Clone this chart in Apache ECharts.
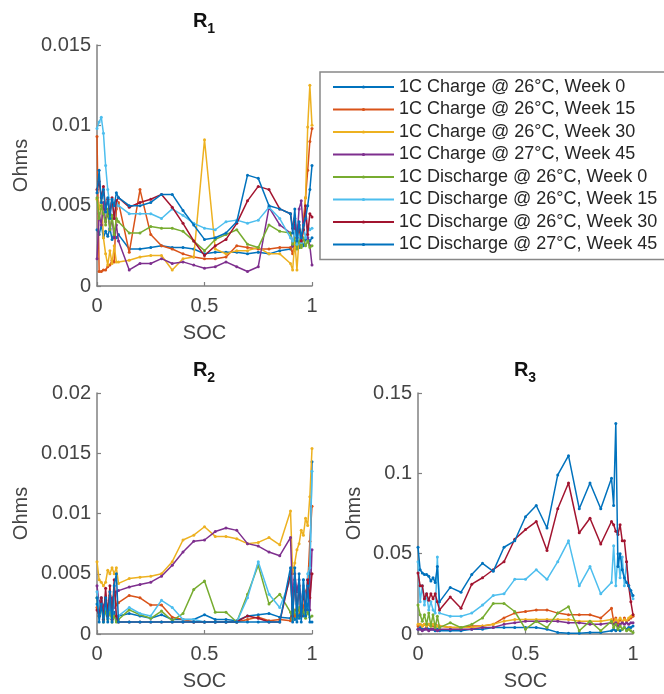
<!DOCTYPE html>
<html><head><meta charset="utf-8">
<script src="https://cdn.jsdelivr.net/npm/echarts@6/dist/echarts.min.js"></script>
<style>html,body{margin:0;padding:0;background:#fff}#c{width:664px;height:694px}</style>
</head><body><div id="c"></div>
<script>
// State of charge sample points (shared by all series)
const SOC = [0,0.01,0.02,0.03,0.04,0.05,0.06,0.07,0.08,0.09,0.1,
  0.15,0.2,0.25,0.3,0.35,0.4,0.45,0.5,0.55,0.6,0.65,0.7,0.75,0.8,0.85,
  0.9,0.91,0.92,0.93,0.94,0.95,0.96,0.97,0.98,0.99,1.0];

const SERIES_NAMES = [
  '1C Charge @ 26°C, Week 0','1C Charge @ 26°C, Week 15','1C Charge @ 26°C, Week 30','1C Charge @ 27°C, Week 45',
  '1C Discharge @ 26°C, Week 0','1C Discharge @ 26°C, Week 15','1C Discharge @ 26°C, Week 30','1C Discharge @ 27°C, Week 45'];
const COLORS = ['#0072BD','#D95319','#EDB120','#7E2F8E','#77AC30','#4DBEEE','#A2142F','#0072BD'];

const X_TICKS = [0, 0.5, 1];
const R1_TICKS = [0, 0.005, 0.01, 0.015];
const R2_TICKS = [0, 0.005, 0.01, 0.015, 0.02];
const R3_TICKS = [0, 0.05, 0.1, 0.15];

// ---------- R1 ----------
const R1_C26_W0 = [0.0035,0.0032,0.0038,0.0030,0.0034,0.0031,0.0036,0.0029,0.0033,0.0030,0.0032,
  0.0023,0.0023,0.0024,0.0025,0.0024,0.0024,0.0023,0.0020,0.0021,0.0021,0.0021,0.0020,0.0021,0.0020,0.0022,
  0.0023,0.0025,0.0022,0.0026,0.0024,0.0028,0.0025,0.0029,0.0030,0.0028,0.0030];
const R1_C26_W15 = [0.0093,0.0009,0.0009,0.0010,0.0010,0.0012,0.0013,0.0016,0.0015,0.0048,0.0052,
  0.0021,0.0060,0.0032,0.0025,0.0023,0.0020,0.0018,0.0017,0.0017,0.0018,0.0025,0.0024,0.0023,0.0023,0.0024,
  0.0024,0.0020,0.0030,0.0025,0.0035,0.0028,0.0040,0.0055,0.0072,0.0090,0.0098];
const R1_C26_W30 = [0.0054,0.0048,0.0056,0.0030,0.0020,0.0013,0.0022,0.0014,0.0025,0.0015,0.0015,
  0.0016,0.0018,0.0019,0.0019,0.0010,0.0017,0.0018,0.0091,0.0023,0.0020,0.0022,0.0022,0.0024,0.0020,0.0020,
  0.0014,0.0010,0.0028,0.0010,0.0030,0.0025,0.0035,0.0055,0.0099,0.0125,0.0100];
const R1_C27_W45 = [0.0017,0.0045,0.0038,0.0052,0.0040,0.0046,0.0035,0.0042,0.0030,0.0038,0.0028,
  0.0010,0.0014,0.0014,0.0017,0.0014,0.0015,0.0013,0.0011,0.0012,0.0015,0.0012,0.0009,0.0012,0.0049,0.0038,
  0.0033,0.0025,0.0038,0.0030,0.0048,0.0053,0.0035,0.0045,0.0030,0.0025,0.0013];
const R1_D26_W0 = [0.0055,0.0042,0.0050,0.0045,0.0038,0.0048,0.0035,0.0044,0.0032,0.0042,0.0040,
  0.0033,0.0033,0.0037,0.0036,0.0036,0.0034,0.0028,0.0022,0.0029,0.0032,0.0035,0.0026,0.0024,0.0038,0.0034,
  0.0033,0.0026,0.0030,0.0023,0.0029,0.0024,0.0030,0.0025,0.0028,0.0024,0.0025];
const R1_D26_W15 = [0.0098,0.0102,0.0105,0.0095,0.0075,0.0060,0.0050,0.0053,0.0042,0.0052,0.0050,
  0.0045,0.0045,0.0045,0.0042,0.0048,0.0044,0.0039,0.0036,0.0035,0.0040,0.0041,0.0039,0.0041,0.0049,0.0042,
  0.0030,0.0028,0.0034,0.0026,0.0032,0.0027,0.0036,0.0030,0.0038,0.0035,0.0036];
const R1_D26_W30 = [0.0060,0.0065,0.0055,0.0062,0.0048,0.0054,0.0045,0.0055,0.0042,0.0053,0.0055,
  0.0049,0.0052,0.0054,0.0057,0.0049,0.0039,0.0028,0.0019,0.0025,0.0029,0.0039,0.0053,0.0062,0.0060,0.0048,
  0.0045,0.0036,0.0042,0.0030,0.0038,0.0028,0.0035,0.0050,0.0032,0.0045,0.0043];
const R1_D27_W45 = [0.0058,0.0072,0.0052,0.0060,0.0046,0.0055,0.0042,0.0054,0.0050,0.0058,0.0055,
  0.0050,0.0050,0.0052,0.0057,0.0057,0.0047,0.0038,0.0029,0.0030,0.0033,0.0040,0.0069,0.0067,0.0050,0.0048,
  0.0045,0.0033,0.0048,0.0028,0.0040,0.0030,0.0038,0.0042,0.0050,0.0060,0.0075];

// ---------- R2 ----------
const R2_C26_W0 = [0.0025,0.0015,0.0028,0.0012,0.0020,0.0013,0.0022,0.0012,0.0018,0.0011,0.0015,
  0.0017,0.0015,0.0013,0.0016,0.0012,0.0012,0.0012,0.0016,0.0012,0.0012,0.0011,0.0015,0.0016,0.0017,0.0014,
  0.0013,0.0025,0.0012,0.0020,0.0013,0.0026,0.0015,0.0030,0.0020,0.0050,0.0143];
const R2_C26_W15 = [0.0022,0.0015,0.0026,0.0018,0.0030,0.0020,0.0032,0.0022,0.0035,0.0024,0.0026,
  0.0032,0.0030,0.0024,0.0024,0.0014,0.0012,0.0010,0.0010,0.0010,0.0010,0.0010,0.0012,0.0014,0.0011,0.0012,
  0.0011,0.0020,0.0015,0.0025,0.0018,0.0030,0.0020,0.0035,0.0040,0.0077,0.0106];
const R2_C26_W30 = [0.0060,0.0045,0.0043,0.0040,0.0043,0.0053,0.0050,0.0055,0.0050,0.0055,0.0042,
  0.0046,0.0047,0.0048,0.0050,0.0060,0.0078,0.0082,0.0089,0.0081,0.0081,0.0079,0.0075,0.0076,0.0080,0.0074,
  0.0102,0.0050,0.0059,0.0070,0.0075,0.0086,0.0082,0.0096,0.0090,0.0114,0.0154];
const R2_C27_W45 = [0.0040,0.0025,0.0030,0.0022,0.0028,0.0020,0.0025,0.0030,0.0022,0.0035,0.0036,
  0.0039,0.0041,0.0043,0.0048,0.0057,0.0068,0.0077,0.0078,0.0085,0.0088,0.0086,0.0075,0.0073,0.0068,0.0065,
  0.0080,0.0030,0.0050,0.0035,0.0045,0.0025,0.0040,0.0030,0.0045,0.0020,0.0070];
const R2_D26_W0 = [0.0030,0.0015,0.0025,0.0010,0.0020,0.0012,0.0018,0.0010,0.0015,0.0010,0.0012,
  0.0020,0.0016,0.0013,0.0019,0.0011,0.0017,0.0037,0.0044,0.0018,0.0018,0.0010,0.0033,0.0057,0.0025,0.0033,
  0.0018,0.0012,0.0020,0.0014,0.0022,0.0015,0.0020,0.0013,0.0018,0.0014,0.0015];
const R2_D26_W15 = [0.0035,0.0020,0.0030,0.0015,0.0025,0.0013,0.0028,0.0012,0.0030,0.0015,0.0015,
  0.0022,0.0017,0.0015,0.0028,0.0022,0.0012,0.0012,0.0010,0.0010,0.0010,0.0010,0.0030,0.0060,0.0033,0.0022,
  0.0045,0.0020,0.0040,0.0018,0.0035,0.0020,0.0045,0.0022,0.0050,0.0055,0.0135];
const R2_D26_W30 = [0.0020,0.0015,0.0030,0.0012,0.0038,0.0015,0.0040,0.0012,0.0045,0.0015,0.0010,
  0.0010,0.0010,0.0010,0.0010,0.0010,0.0010,0.0010,0.0010,0.0010,0.0010,0.0010,0.0015,0.0013,0.0010,0.0010,
  0.0050,0.0015,0.0045,0.0020,0.0040,0.0015,0.0035,0.0020,0.0045,0.0030,0.0050];
const R2_D27_W45 = [0.0030,0.0010,0.0025,0.0010,0.0030,0.0010,0.0035,0.0010,0.0040,0.0050,0.0010,
  0.0010,0.0010,0.0010,0.0010,0.0010,0.0010,0.0010,0.0010,0.0010,0.0010,0.0010,0.0010,0.0010,0.0010,0.0010,
  0.0055,0.0010,0.0055,0.0010,0.0050,0.0010,0.0045,0.0015,0.0040,0.0010,0.0010];

// ---------- R3 ----------
const R3_C26_W0 = [0.003,0.004,0.003,0.003,0.004,0.003,0.003,0.003,0.002,0.003,0.002,
  0.002,0.002,0.003,0.003,0.004,0.004,0.004,0.004,0.004,0.003,0.001,0.0005,0.0005,0.001,0.001,
  0.002,0.003,0.002,0.003,0.002,0.003,0.004,0.003,0.004,0.004,0.005];
const R3_C26_W15 = [0.005,0.006,0.005,0.006,0.005,0.006,0.005,0.005,0.006,0.005,0.005,
  0.004,0.004,0.005,0.005,0.006,0.010,0.013,0.014,0.015,0.015,0.013,0.012,0.012,0.012,0.010,
  0.016,0.008,0.010,0.007,0.009,0.007,0.010,0.008,0.009,0.010,0.011];
const R3_C26_W30 = [0.006,0.006,0.005,0.006,0.005,0.006,0.005,0.006,0.005,0.005,0.005,
  0.004,0.004,0.004,0.005,0.006,0.008,0.009,0.009,0.009,0.009,0.009,0.009,0.008,0.008,0.008,
  0.009,0.007,0.009,0.008,0.010,0.008,0.009,0.008,0.010,0.011,0.012];
const R3_C27_W45 = [0.003,0.003,0.002,0.003,0.003,0.002,0.003,0.003,0.003,0.002,0.003,
  0.003,0.003,0.003,0.004,0.004,0.006,0.007,0.008,0.008,0.008,0.008,0.007,0.007,0.006,0.006,
  0.007,0.006,0.007,0.005,0.006,0.007,0.006,0.007,0.006,0.007,0.007];
const R3_D26_W0 = [0.018,0.012,0.008,0.012,0.006,0.013,0.005,0.012,0.004,0.011,0.004,
  0.007,0.004,0.006,0.010,0.019,0.019,0.014,0.003,0.008,0.004,0.013,0.017,0.002,0.008,0.002,
  0.008,0.004,0.006,0.003,0.005,0.003,0.004,0.002,0.003,0.002,0.001];
const R3_D26_W15 = [0.045,0.020,0.030,0.018,0.025,0.015,0.020,0.015,0.013,0.048,0.013,
  0.011,0.011,0.013,0.018,0.024,0.025,0.034,0.034,0.040,0.034,0.045,0.058,0.030,0.042,0.025,
  0.032,0.055,0.030,0.050,0.035,0.048,0.030,0.045,0.030,0.025,0.022];
const R3_D26_W30 = [0.038,0.030,0.030,0.022,0.025,0.021,0.025,0.022,0.025,0.020,0.015,
  0.023,0.016,0.031,0.035,0.040,0.045,0.059,0.065,0.070,0.052,0.078,0.094,0.063,0.072,0.056,
  0.070,0.068,0.064,0.062,0.068,0.058,0.058,0.045,0.030,0.020,0.012];
const R3_D27_W45 = [0.054,0.040,0.038,0.037,0.037,0.036,0.033,0.035,0.032,0.042,0.020,
  0.029,0.026,0.037,0.044,0.039,0.054,0.058,0.073,0.080,0.066,0.099,0.111,0.078,0.094,0.078,
  0.097,0.080,0.131,0.042,0.050,0.040,0.035,0.032,0.030,0.027,0.024];

const PLOTS = [
  {title:'1', ticks:R1_TICKS, data:[R1_C26_W0,R1_C26_W15,R1_C26_W30,R1_C27_W45,R1_D26_W0,R1_D26_W15,R1_D26_W30,R1_D27_W45]},
  {title:'2', ticks:R2_TICKS, data:[R2_C26_W0,R2_C26_W15,R2_C26_W30,R2_C27_W45,R2_D26_W0,R2_D26_W15,R2_D26_W30,R2_D27_W45]},
  {title:'3', ticks:R3_TICKS, data:[R3_C26_W0,R3_C26_W15,R3_C26_W30,R3_C27_W45,R3_D26_W0,R3_D26_W15,R3_D26_W30,R3_D27_W45]}
];

const FONT = 'Liberation Sans, Arial, Helvetica, sans-serif';
const AX = '#808080', TX = '#444444';
const grids = [
  {left:97, top:45, width:215, height:241},
  {left:97, top:393, width:215, height:241},
  {left:418, top:393, width:215, height:241}
];
const yNameGap = [66, 66, 54];
const titlePos = [[204, 11], [204, 360], [525, 360]];

const fmt = v => String(parseFloat(Number(v).toPrecision(6)));
const xAxis = [], yAxis = [], series = [], graphic = [];
PLOTS.forEach((p, i) => {
  xAxis.push({
    type:'value', gridIndex:i, min:X_TICKS[0], max:X_TICKS[X_TICKS.length-1], interval:X_TICKS[1]-X_TICKS[0],
    name:'SOC', nameLocation:'middle', nameGap:37,
    nameTextStyle:{fontSize:20, color:TX, fontFamily:FONT},
    axisLine:{show:true, onZero:false, lineStyle:{color:AX, width:1.5}},
    axisTick:{show:true, inside:true, length:4, lineStyle:{color:AX, width:1.2}},
    splitLine:{show:false},
    axisLabel:{fontSize:20, color:TX, fontFamily:FONT, margin:10, formatter:fmt}
  });
  yAxis.push({
    type:'value', gridIndex:i, min:p.ticks[0], max:p.ticks[p.ticks.length-1], interval:p.ticks[1]-p.ticks[0],
    name:'Ohms', nameLocation:'middle', nameGap:yNameGap[i],
    nameTextStyle:{fontSize:20, color:TX, fontFamily:FONT},
    axisLine:{show:true, onZero:false, lineStyle:{color:AX, width:1.5}},
    axisTick:{show:true, inside:true, length:4, lineStyle:{color:AX, width:1.2}},
    splitLine:{show:false},
    axisLabel:{fontSize:20, color:TX, fontFamily:FONT, margin:6, formatter:fmt}
  });
  p.data.forEach((arr, k) => {
    series.push({
      type:'line', name:SERIES_NAMES[k], xAxisIndex:i, yAxisIndex:i,
      data: SOC.map((s, j) => [s, arr[j]]),
      symbol:'circle', symbolSize:3, showSymbol:true, showAllSymbol:true,
      lineStyle:{width:1.5, color:COLORS[k]}, itemStyle:{color:COLORS[k]},
      emphasis:{disabled:true}, silent:true, z:2+k
    });
  });
  graphic.push({
    type:'text', x:titlePos[i][0], y:titlePos[i][1], z:10,
    style:{
      text:'{a|R}{b|' + p.title + '}', align:'center', verticalAlign:'top', fill:'#111',
      rich:{
        a:{fontSize:20, fontWeight:'bold', lineHeight:20, verticalAlign:'top', fontFamily:FONT, fill:'#111'},
        b:{fontSize:14, fontWeight:'bold', lineHeight:25, verticalAlign:'bottom', fontFamily:FONT, fill:'#111'}
      }
    }
  });
});

const chart = echarts.init(document.getElementById('c'), null, {renderer:'canvas'});
chart.setOption({
  backgroundColor:'#fff',
  animation:false,
  color:COLORS,
  grid:grids,
  xAxis, yAxis, series, graphic,
  legend:{
    data:SERIES_NAMES, orient:'vertical', left:320, top:72,
    itemWidth:61, itemHeight:4, itemGap:4.5, selectedMode:false,
    textStyle:{fontSize:18, color:'#262626', fontFamily:FONT},
    borderColor:'#888', borderWidth:1.5, padding:[6, 10, 6, 12], backgroundColor:'#fff'
  }
});
</script></body></html>
